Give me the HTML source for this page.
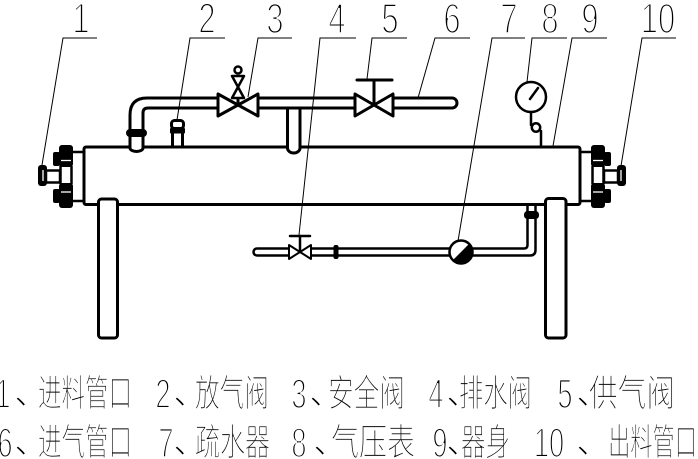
<!DOCTYPE html>
<html><head><meta charset="utf-8"><style>
html,body{margin:0;padding:0;background:#fff;}
svg{display:block;}
</style></head><body>
<svg width="698" height="459" viewBox="0 0 698 459" xmlns="http://www.w3.org/2000/svg">
<rect width="698" height="459" fill="#fff"/>

<!-- Leader lines -->
<g stroke="#000" stroke-width="1" fill="none">
  <path d="M97,38 H63 L42,165"/>
  <path d="M225,38 H190 L177,120"/>
  <path d="M292,38 H258 L248,97"/>
  <path d="M356,38 H320 L299,235"/>
  <path d="M407,38 H372 L367,79"/>
  <path d="M470,38 H435 L418,98"/>
  <path d="M525,38 H492 L458,241"/>
  <path d="M567,38 H532 L527,82"/>
  <path d="M607,38 H572 L553,146"/>
  <path d="M676,38 H642 L621,166"/>
</g>

<g fill="none" stroke="#000" stroke-width="3" stroke-linejoin="round" stroke-linecap="round">
  <!-- Body -->
  <rect x="84" y="147" width="496" height="57.5" rx="2"/>
  <!-- Legs -->
  <rect x="98.5" y="199" width="19" height="139" rx="3" fill="#fff"/>
  <rect x="545.5" y="198.5" width="20.5" height="139.5" rx="3" fill="#fff"/>

  <!-- Left vertical pipe + bend -->
  <rect x="131.5" y="112" width="10" height="38" fill="#fff" stroke="none"/>
  <path d="M130,148 V115 Q130,98 147,98 H218"/>
  <path d="M143,148 V113 Q143,108 148,108 H218"/>
  <path d="M130,148 A6.5,3.5 0 0 0 143,148"/>

  <!-- Valve 3 -->
  <polygon points="218,94 218,116 238,105" fill="#fff"/>
  <polygon points="258,94 258,116 238,105" fill="#fff"/>
  <line x1="238" y1="105" x2="238" y2="97"/>
  <polygon points="232,76 244,76 238,87" stroke-width="2.5" fill="#fff"/>
  <polygon points="238,87 232,98 244,98" stroke-width="2.5" fill="#fff"/>
  <circle cx="238" cy="70" r="3.5" stroke-width="2.5" fill="#fff"/>

  <!-- Pipe between valve 3 and valve 5 -->
  <path d="M258,98 H355"/>
  <path d="M258,108 H355"/>
  <!-- T stub -->
  <rect x="289" y="110" width="10" height="44" fill="#fff" stroke="none"/>
  <path d="M287.5,108 V148 A6.25,5 0 0 0 300,148 V108"/>

  <!-- Valve 5 -->
  <polygon points="355,94 355,116 374,105" fill="#fff"/>
  <polygon points="393,94 393,116 374,105" fill="#fff"/>
  <line x1="374" y1="105" x2="374" y2="80"/>
  <line x1="357" y1="80" x2="392" y2="80"/>

  <!-- Pipe 6 -->
  <path d="M393,98 H452 A5,5 0 0 1 452,108 H393"/>

  <!-- Vent valve 2 -->
  <rect x="171.5" y="120.5" width="12" height="8" rx="3" fill="#fff"/>
  <line x1="172.5" y1="133" x2="172.5" y2="147"/>
  <line x1="182.5" y1="133" x2="182.5" y2="147"/>

  <!-- Gauge 8 -->
  <circle cx="531" cy="97" r="15" stroke-width="2.5" fill="#fff"/>
  <line x1="530" y1="99" x2="538" y2="88" stroke-width="2.5"/>
  <path d="M531,112 V125" stroke-width="2.5"/>
  <circle cx="536" cy="127.5" r="4.2" stroke-width="2.5"/>
  <line x1="541" y1="131" x2="541" y2="147" stroke-width="2.5"/>

  <!-- Drain pipe -->
  <g stroke-width="2.5">
    <path d="M288,248.5 H257 A3.5,3.5 0 0 0 257,255.5 H288"/>
    <path d="M312,248.5 H449"/>
    <path d="M312,255.5 H449"/>
    <path d="M473,248.5 H524 Q527.5,248.5 527.5,245 V205"/>
    <path d="M473,255.5 H530 Q535.5,255.5 535.5,250 V205"/>
    <polygon points="289,245 289,259 300,252" stroke-width="2" fill="#fff"/>
    <polygon points="311,245 311,259 300,252" stroke-width="2" fill="#fff"/>
    <line x1="300" y1="252" x2="300" y2="236"/>
    <line x1="290" y1="236" x2="310" y2="236"/>
    <circle cx="461" cy="252" r="11.5" fill="#fff"/>
  </g>
</g>

<!-- Solid fills -->
<g fill="#000">
  <rect x="126" y="129" width="21" height="8" rx="4"/>
  <rect x="170" y="128" width="15" height="5.5" rx="1"/>
  <rect x="333.5" y="245" width="5" height="14" rx="2"/>
  <path d="M452.9,260.1 A11.5,11.5 0 0 0 469.1,243.9 Z"/>
  <rect x="524" y="211" width="15" height="8" rx="3.5"/>
</g>

<!-- Left flange -->
<g>
  <g stroke="#000" stroke-width="2.5" fill="none">
    <line x1="72" y1="152" x2="84" y2="152"/>
    <line x1="72" y1="201" x2="84" y2="201"/>
    <line x1="60.5" y1="166" x2="60.5" y2="184"/>
    <line x1="71.5" y1="166" x2="71.5" y2="184"/>
    <rect x="46" y="170.5" width="14" height="12" fill="#fff"/>
  </g>
  <g fill="#000">
    <rect x="59" y="145" width="14" height="22" rx="3"/>
    <rect x="53" y="152" width="7" height="14" rx="2"/>
    <rect x="59" y="183" width="14" height="25" rx="3"/>
    <rect x="53" y="189" width="7" height="14" rx="2"/>
    <rect x="38" y="165" width="9" height="21" rx="3"/>
  </g>
  <g stroke="#fff" stroke-width="1.3">
    <line x1="61" y1="160.5" x2="71" y2="160.5"/>
    <line x1="61" y1="192" x2="71" y2="192"/>
    <line x1="43" y1="170" x2="43" y2="181"/>
  </g>
</g>
<!-- Right flange (mirror) -->
<g transform="translate(664,0) scale(-1,1)">
  <g stroke="#000" stroke-width="2.5" fill="none">
    <line x1="72" y1="152" x2="84" y2="152"/>
    <line x1="72" y1="201" x2="84" y2="201"/>
    <line x1="60.5" y1="166" x2="60.5" y2="184"/>
    <line x1="71.5" y1="166" x2="71.5" y2="184"/>
    <rect x="46" y="170.5" width="14" height="12" fill="#fff"/>
  </g>
  <g fill="#000">
    <rect x="59" y="145" width="14" height="22" rx="3"/>
    <rect x="53" y="152" width="7" height="14" rx="2"/>
    <rect x="59" y="183" width="14" height="25" rx="3"/>
    <rect x="53" y="189" width="7" height="14" rx="2"/>
    <rect x="38" y="165" width="9" height="21" rx="3"/>
  </g>
  <g stroke="#fff" stroke-width="1.3">
    <line x1="61" y1="160.5" x2="71" y2="160.5"/>
    <line x1="61" y1="192" x2="71" y2="192"/>
    <line x1="43" y1="170" x2="43" y2="181"/>
  </g>
</g>

<!-- Top numbers (thinned with white stroke) -->
<g font-family="'Liberation Sans', sans-serif" font-size="43" text-anchor="middle" fill="#000" stroke="#fff" stroke-width="2">
  <text transform="translate(81,33) scale(0.72,1)">1</text>
  <text transform="translate(207,33) scale(0.72,1)">2</text>
  <text transform="translate(275,33) scale(0.72,1)">3</text>
  <text transform="translate(337,33) scale(0.72,1)">4</text>
  <text transform="translate(390,33) scale(0.72,1)">5</text>
  <text transform="translate(452,33) scale(0.72,1)">6</text>
  <text transform="translate(509,33) scale(0.72,1)">7</text>
  <text transform="translate(550,33) scale(0.72,1)">8</text>
  <text transform="translate(590,33) scale(0.72,1)">9</text>
  <text transform="translate(658,33) scale(0.72,1)">10</text>
</g>

<!-- Legend digits -->
<g font-family="'Liberation Sans', sans-serif" font-size="42" text-anchor="middle" fill="#000" stroke="#fff" stroke-width="2">
  <text transform="translate(3,408) scale(0.65,1)">1</text>
  <text transform="translate(163,408) scale(0.65,1)">2</text>
  <text transform="translate(299,408) scale(0.65,1)">3</text>
  <text transform="translate(436,408) scale(0.65,1)">4</text>
  <text transform="translate(565,408) scale(0.65,1)">5</text>
  <text transform="translate(5,457) scale(0.65,1)">6</text>
  <text transform="translate(166,457) scale(0.65,1)">7</text>
  <text transform="translate(299,457) scale(0.65,1)">8</text>
  <text transform="translate(440,457) scale(0.65,1)">9</text>
  <text transform="translate(549,457) scale(0.65,1)">10</text>
</g>

<!-- Legend punctuation -->
<g font-family="'Liberation Sans', 'Noto Sans CJK SC', sans-serif" font-size="30" fill="#000" font-weight="300">
  <text x="15" y="404">、</text>
  <text x="174" y="404">、</text>
  <text x="310" y="404">、</text>
  <text x="447" y="404">、</text>
  <text x="577" y="404">、</text>
  <text x="15" y="453">、</text>
  <text x="174" y="453">、</text>
  <text x="314" y="453">、</text>
  <text x="447" y="453">、</text>
  <text x="577" y="453">、</text>
</g>

<!-- Legend words -->
<g font-family="'Liberation Sans', 'Noto Sans CJK SC', sans-serif" font-size="37" fill="#000" font-weight="300" stroke="#fff" stroke-width="0.8">
  <text x="38" y="406" textLength="94" lengthAdjust="spacingAndGlyphs">进料管口</text>
  <text x="195" y="406" textLength="74" lengthAdjust="spacingAndGlyphs">放气阀</text>
  <text x="328" y="406" textLength="77" lengthAdjust="spacingAndGlyphs">安全阀</text>
  <text x="459" y="406" textLength="73" lengthAdjust="spacingAndGlyphs">排水阀</text>
  <text x="589" y="406" textLength="86" lengthAdjust="spacingAndGlyphs">供气阀</text>
  <text x="38" y="455" textLength="94" lengthAdjust="spacingAndGlyphs">进气管口</text>
  <text x="195" y="455" textLength="75" lengthAdjust="spacingAndGlyphs">疏水器</text>
  <text x="331" y="455" textLength="84" lengthAdjust="spacingAndGlyphs">气压表</text>
  <text x="461" y="455" textLength="49" lengthAdjust="spacingAndGlyphs">器身</text>
  <text x="608" y="455" textLength="89" lengthAdjust="spacingAndGlyphs">出料管口</text>
</g>
</svg>
</body></html>
